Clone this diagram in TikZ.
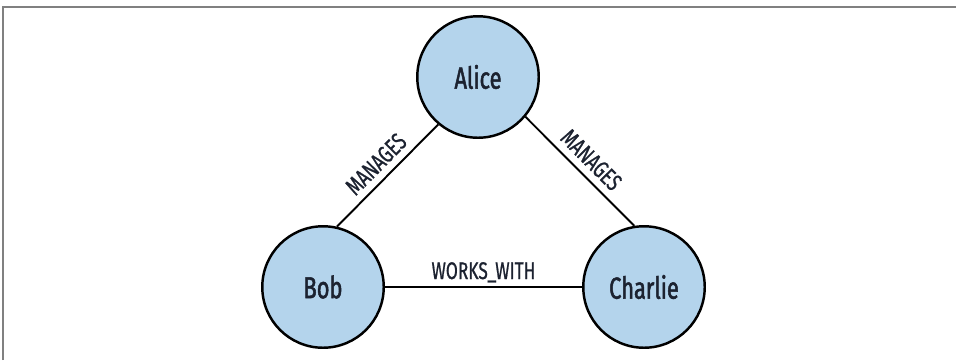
\documentclass[tikz,border=0pt]{standalone}
\usepackage{fontspec}
\usepackage{tikz}
\newfontfamily\condfont[FakeStretch=0.72,FakeBold=1.6]{Fira Sans}
\newfontfamily\condlabelfont[FakeStretch=0.72,FakeBold=0.8]{Fira Sans}
\definecolor{gnblue}{HTML}{B4D4EC}
\definecolor{gnink}{HTML}{1C2230}
\definecolor{gngray}{HTML}{808080}
\tikzset{
  personNode/.style={circle, draw=black, line width=1.4pt, fill=gnblue, minimum size=2.43cm, inner sep=0pt, text=gnink, font=\condfont\fontsize{17.3}{20}\selectfont},
  relLine/.style={line width=1.1pt, draw=black},
  relLabel/.style={midway, sloped, above=4pt, inner sep=0pt, text depth=0pt, text=gnink, font=\condlabelfont\fontsize{13.7}{16}\selectfont}
}
\begin{document}
\begin{tikzpicture}[x=0.02cm,y=0.02cm]
  \useasboundingbox (0,0) rectangle (956,360);
  \draw[gngray, line width=1.2pt] (3,0) -- (3,353.3) -- (956,353.3);
  \node[personNode] (alice) at (478,283) {Alice};
  \node[personNode] (bob) at (323,73) {Bob};
  \node[personNode] (charlie) at (644,73) {Charlie};
  \draw[relLine] (bob.77) -- node[relLabel]{MANAGES} (alice.230);
  \draw[relLine] (alice.320) -- node[relLabel]{MANAGES} (charlie.99);
  \draw[relLine] (bob.east) -- node[relLabel]{WORKS\_WITH} (charlie.west);
\end{tikzpicture}
\end{document}
